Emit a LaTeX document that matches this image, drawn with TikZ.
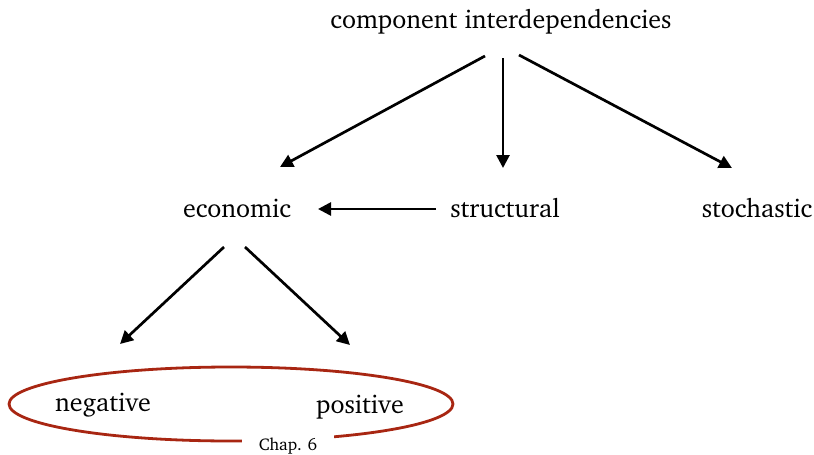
\documentclass[tikz,border=0pt]{standalone}
\usepackage[T1]{fontenc}
\renewcommand{\rmdefault}{bch}
\usetikzlibrary{positioning}
\usetikzlibrary{calc}
\usetikzlibrary{arrows.meta}
\definecolor{chapred}{RGB}{168,38,18}

\begin{document}
\begin{tikzpicture}[x=1pt, y=-1pt,
                labelnode/.style={anchor=base, inner sep=0pt, font=\fontsize{26}{31}\selectfont},
                arr/.style={-{Triangle[length=13pt, width=13pt]}, line width=2.7pt},
                grpline/.style={draw=chapred, line width=2.8pt},
                ]
    \useasboundingbox (0,0) rectangle (814,455);

                \node[labelnode] (top) at (501,28) {component interdependencies};
                \node[labelnode] (eco) at (237,217) {economic};
                \node[labelnode] (struct) at (505,217) {structural};
                \node[labelnode] (stoch) at (757,217) {stochastic};
                \node[labelnode] (neg) at (103,411) {negative};
                \node[labelnode] (pos) at (360,413) {positive};

                \coordinate (grp) at (231,404);
                \draw[grpline] (grp) ellipse [x radius=222, y radius=37];
                \node[anchor=base, fill=white, inner xsep=17pt, inner ysep=3pt, font=\fontsize{17}{20}\selectfont] (chap) at ($(grp)+(57,46)$) {Chap. 6};

                \draw[arr] ([shift={(-16,28)}]top.base) -- ([shift={(43,-50)}]eco.base);
                \draw[arr] ([shift={(2,30)}]top.base) -- ([shift={(-2,-49)}]struct.base);
                \draw[arr] ([shift={(18,27)}]top.base) -- ([shift={(-25,-49)}]stoch.base);
                \draw[arr] ([shift={(-69,-8)}]struct.base) -- ([shift={(81,-8)}]eco.base);
                \draw[arr] ([shift={(-13,30)}]eco.base) -- ([shift={(17,-67)}]neg.base);
                \draw[arr] ([shift={(8,30)}]eco.base) -- ([shift={(-10,-68)}]pos.base);
            \end{tikzpicture}
\end{document}
